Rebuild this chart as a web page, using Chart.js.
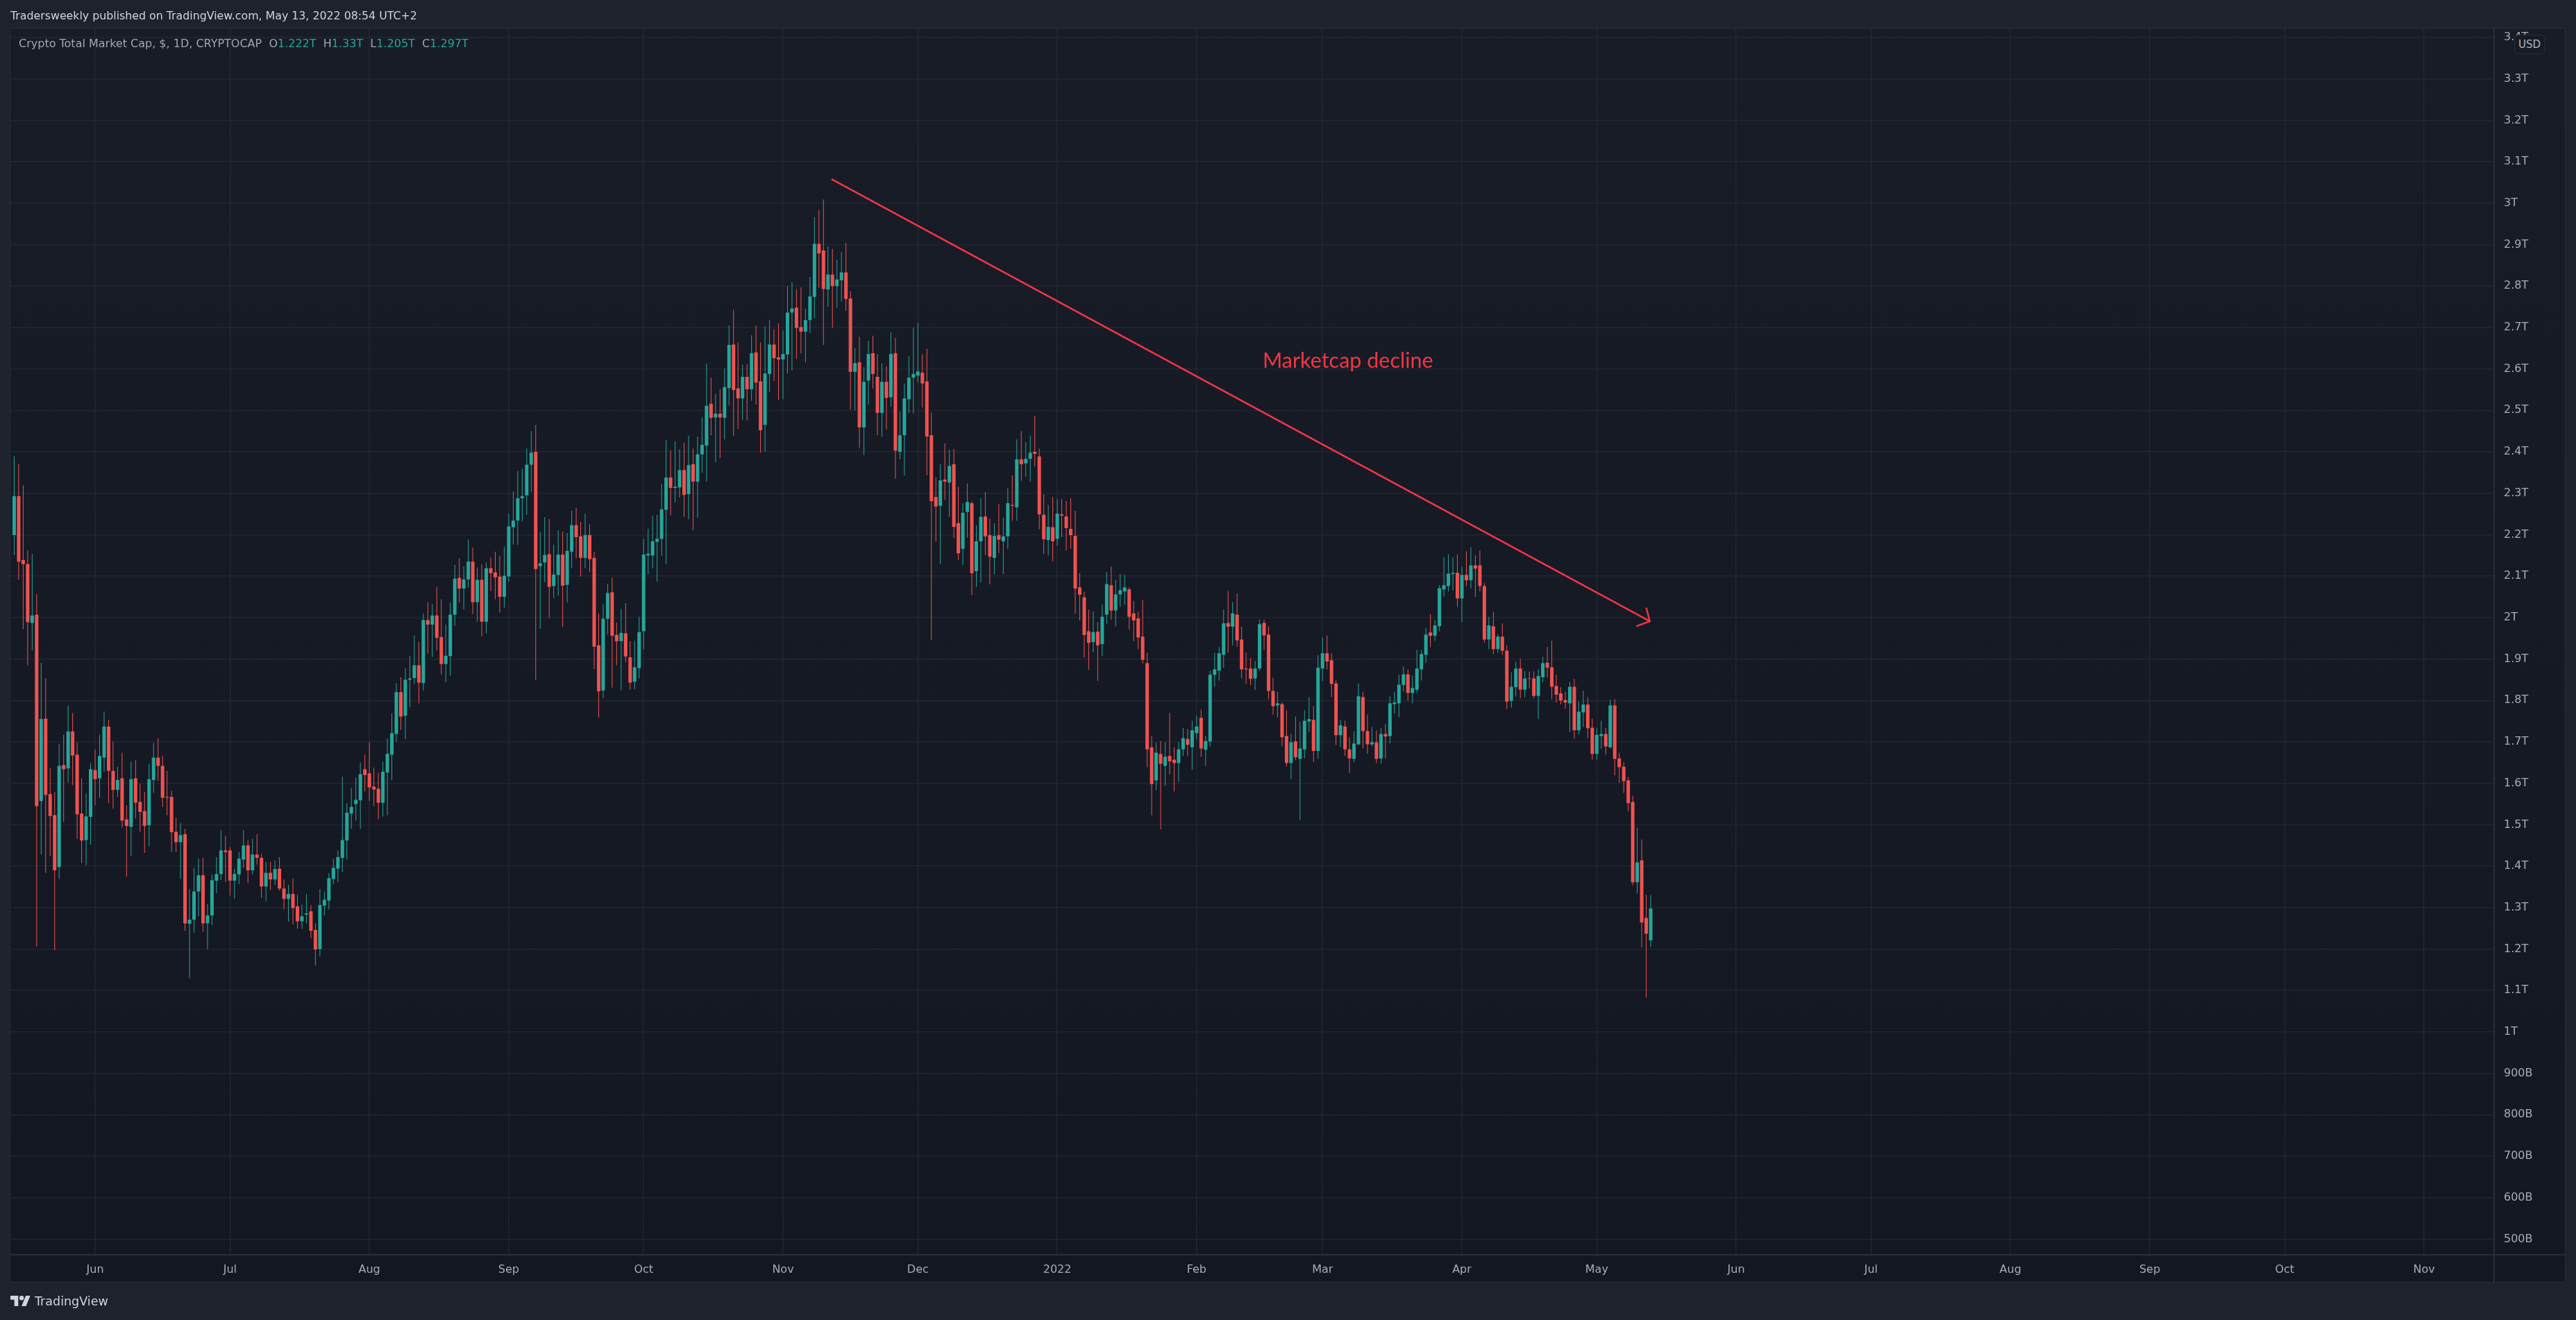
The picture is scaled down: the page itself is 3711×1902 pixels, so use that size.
<!DOCTYPE html>
<html>
<head>
<meta charset="utf-8">
<title>Crypto Total Market Cap</title>
<script src="https://cdn.jsdelivr.net/npm/chart.js@4"></script>
<style>
    html, body { margin: 0; padding: 0; background: #1e222d; }
    body { width: 3711px; height: 1902px; position: relative; overflow: hidden; font-family: "DejaVu Sans", sans-serif; }
    #pane { position: absolute; left: 14px; top: 40px; width: 3680px; height: 1806px; border: 1.5px solid #2a2e39; background: linear-gradient(#181c27, #131722); }
    #priceLine { position: absolute; left: 3592px; top: 41px; width: 1.5px; height: 1807px; background: #2a2e39; }
    #timeLine { position: absolute; left: 15px; top: 1807px; width: 3681px; height: 1.5px; background: #2a2e39; }
    canvas { position: absolute; left: 0; top: 0; }
    .txt { position: absolute; white-space: pre; line-height: 1; }
    #published { left: 15px; top: 15px; font-size: 15.8px; color: #d1d4dc; }
    #legend { left: 27px; top: 55px; font-size: 16px; color: #a3a6af; }
    #legend b { font-weight: normal; color: #26a69a; }
    #note { left: 1819px; top: 503px; font-family: Lato, sans-serif; font-size: 30.5px; color: #f23645; }
    #usd { position: absolute; left: 3622px; top: 50px; width: 42px; height: 26px; border: 1px solid #2a2e39; border-radius: 6px; background: #171b26; color: #b2b5be; font-size: 15px; line-height: 26px; text-align: center; }
    #logo { position: absolute; left: 15px; top: 1867px; width: 29px; height: 15px; }
    #brand { left: 50px; top: 1867px; font-size: 17.5px; color: #d1d4dc; }
</style>
</head>
<body>
<div id="pane"></div>
<canvas id="chart" width="3711" height="1902"></canvas>
<div id="priceLine"></div>
<div id="timeLine"></div>
<div class="txt" id="published">Tradersweekly published on TradingView.com, May 13, 2022 08:54 UTC+2</div>
<div class="txt" id="legend">Crypto Total Market Cap, $, 1D, CRYPTOCAP  O<b>1.222T</b>  H<b>1.33T</b>  L<b>1.205T</b>  C<b>1.297T</b></div>
<div class="txt" id="note">Marketcap decline</div>
<div id="usd">USD</div>
<svg id="logo" viewBox="0 4 36 18" preserveAspectRatio="none"><path fill="#d1d4dc" d="M14 22H7V11H0V4h14v18zM28 22h-8l7.5-18h8L28 22z"/><circle fill="#d1d4dc" cx="20" cy="8" r="4"/></svg>
<div class="txt" id="brand">TradingView</div>
<script>
// ==================== Data (market cap in trillions of USD) ====================
// day of the first candle, counted from 1 Jun 2021
const firstDay = -18

const opens = [
    2.199,2.293,2.139,2.129,1.987,2.007,1.557,1.756,1.574,1.523,1.398,1.644,1.636,1.725,1.669,1.527,1.463,1.519,1.632,1.612,
    1.662,1.737,1.630,1.584,1.612,1.513,1.495,1.612,1.555,1.533,1.499,1.608,1.662,1.642,1.567,1.567,1.483,1.458,1.477,1.261,
    1.271,1.339,1.378,1.262,1.281,1.365,1.381,1.438,1.438,1.365,1.380,1.416,1.450,1.390,1.428,1.420,1.351,1.384,1.368,1.394,
    1.346,1.321,1.333,1.303,1.267,1.283,1.291,1.246,1.200,1.305,1.317,1.369,1.394,1.420,1.462,1.527,1.550,1.559,1.634,1.624,
    1.592,1.587,1.553,1.626,1.669,1.719,1.820,1.763,1.850,1.854,1.885,1.842,1.994,1.983,2.005,1.953,1.888,1.907,2.007,2.096,
    2.070,2.092,2.135,2.037,2.091,1.990,2.119,2.109,2.099,2.050,2.099,2.218,2.234,2.288,2.295,2.369,2.400,2.124,2.133,2.153,
    2.076,2.103,2.152,2.079,2.159,2.223,2.196,2.144,2.199,2.144,1.933,1.824,1.997,2.061,1.958,1.943,1.962,1.904,1.845,1.878,
    1.967,2.150,2.150,2.183,2.190,2.260,2.338,2.313,2.314,2.356,2.298,2.370,2.328,2.394,2.415,2.516,2.483,2.492,2.482,2.554,
    2.659,2.553,2.529,2.581,2.551,2.640,2.570,2.465,2.588,2.659,2.628,2.623,2.635,2.736,2.748,2.701,2.690,2.718,2.774,2.902,
    2.886,2.792,2.828,2.800,2.814,2.833,2.770,2.593,2.616,2.459,2.572,2.638,2.581,2.494,2.569,2.532,2.638,2.400,2.440,2.527,
    2.579,2.584,2.591,2.570,2.440,2.291,2.270,2.333,2.326,2.370,2.228,2.166,2.255,2.276,2.112,2.184,2.244,2.199,2.144,2.199,
    2.184,2.196,2.272,2.266,2.382,2.372,2.383,2.400,2.389,2.248,2.187,2.218,2.190,2.249,2.244,2.214,2.197,2.073,2.049,1.967,
    1.941,1.966,1.936,2.007,2.078,2.017,2.056,2.063,2.068,2.010,1.998,1.954,1.890,1.687,1.607,1.671,1.642,1.666,1.657,1.649,
    1.682,1.707,1.687,1.721,1.758,1.681,1.701,1.862,1.872,1.910,1.987,1.978,2.007,1.947,1.877,1.877,1.853,1.877,1.987,1.959,
    1.823,1.788,1.791,1.714,1.649,1.701,1.659,1.682,1.749,1.753,1.678,1.877,1.914,1.897,1.841,1.716,1.737,1.682,1.659,1.694,
    1.808,1.726,1.694,1.699,1.660,1.719,1.714,1.791,1.793,1.837,1.863,1.818,1.826,1.875,1.910,1.964,1.956,1.979,2.068,2.076,
    2.105,2.108,2.046,2.103,2.090,2.126,2.126,2.076,1.947,1.979,1.924,1.954,1.920,1.799,1.832,1.877,1.826,1.853,1.853,1.811,
    1.856,1.891,1.880,1.835,1.817,1.801,1.793,1.833,1.728,1.771,1.790,1.734,1.671,1.714,1.719,1.687,1.788,1.660,1.640,1.607,
    1.555,1.361,1.414,1.275,1.221
]
const closes = [
    2.293,2.135,2.129,1.989,2.005,1.545,1.755,1.572,1.521,1.390,1.642,1.634,1.725,1.667,1.525,1.462,1.520,1.634,1.610,1.666,
    1.737,1.630,1.584,1.608,1.510,1.497,1.610,1.553,1.531,1.497,1.610,1.662,1.642,1.565,1.565,1.482,1.458,1.475,1.262,1.271,
    1.339,1.378,1.262,1.281,1.366,1.381,1.438,1.434,1.365,1.381,1.418,1.450,1.390,1.428,1.420,1.351,1.384,1.368,1.393,1.346,
    1.321,1.333,1.299,1.267,1.279,1.286,1.244,1.199,1.306,1.319,1.371,1.396,1.422,1.463,1.529,1.543,1.560,1.622,1.620,1.590,
    1.585,1.553,1.628,1.671,1.721,1.820,1.761,1.850,1.853,1.885,1.843,1.994,1.983,2.005,1.951,1.888,1.908,2.007,2.094,2.070,
    2.092,2.135,2.037,2.091,1.990,2.119,2.107,2.097,2.050,2.101,2.220,2.234,2.288,2.293,2.369,2.398,2.117,2.131,2.151,2.074,
    2.104,2.152,2.077,2.161,2.223,2.194,2.144,2.199,2.141,1.930,1.822,1.997,2.059,1.956,1.943,1.963,1.906,1.843,1.880,1.965,
    2.152,2.154,2.184,2.190,2.261,2.338,2.313,2.316,2.356,2.296,2.368,2.328,2.394,2.417,2.511,2.482,2.492,2.483,2.556,2.658,
    2.549,2.529,2.581,2.551,2.638,2.567,2.452,2.589,2.659,2.626,2.623,2.636,2.736,2.746,2.699,2.690,2.718,2.775,2.902,2.879,
    2.793,2.828,2.800,2.816,2.833,2.769,2.593,2.614,2.459,2.569,2.636,2.588,2.494,2.569,2.530,2.636,2.403,2.440,2.529,2.579,
    2.588,2.594,2.565,2.437,2.281,2.268,2.331,2.328,2.366,2.219,2.155,2.253,2.279,2.107,2.184,2.243,2.196,2.147,2.197,2.188,
    2.196,2.276,2.270,2.382,2.370,2.383,2.398,2.395,2.249,2.189,2.219,2.184,2.251,2.246,2.216,2.199,2.070,2.055,1.958,1.939,
    1.965,1.933,2.002,2.081,2.017,2.056,2.066,2.073,2.002,1.993,1.952,1.898,1.682,1.598,1.674,1.647,1.664,1.653,1.649,1.682,
    1.709,1.693,1.728,1.737,1.684,1.702,1.862,1.875,1.914,1.986,1.978,2.010,1.945,1.875,1.875,1.852,1.877,1.984,1.957,1.823,
    1.786,1.793,1.711,1.649,1.699,1.663,1.684,1.751,1.755,1.678,1.879,1.914,1.894,1.840,1.716,1.740,1.682,1.660,1.696,1.810,
    1.726,1.694,1.699,1.659,1.719,1.713,1.793,1.795,1.838,1.863,1.818,1.830,1.877,1.912,1.959,1.956,1.981,2.071,2.078,2.106,
    2.108,2.046,2.103,2.090,2.126,2.118,2.076,1.947,1.981,1.924,1.954,1.920,1.797,1.833,1.877,1.826,1.853,1.852,1.811,1.859,
    1.890,1.879,1.833,1.814,1.800,1.795,1.833,1.728,1.773,1.790,1.733,1.671,1.717,1.719,1.689,1.788,1.659,1.639,1.605,1.552,
    1.361,1.409,1.264,1.237,1.298
]
const highs = [
    2.389,2.370,2.319,2.162,2.154,2.057,1.891,1.854,1.637,1.579,1.694,1.717,1.788,1.770,1.699,1.612,1.575,1.649,1.681,1.717,
    1.773,1.753,1.701,1.640,1.674,1.547,1.652,1.656,1.599,1.579,1.647,1.697,1.709,1.666,1.630,1.582,1.517,1.505,1.490,1.345,
    1.396,1.418,1.420,1.309,1.380,1.422,1.487,1.473,1.446,1.394,1.434,1.487,1.463,1.466,1.477,1.430,1.410,1.410,1.414,1.422,
    1.368,1.355,1.371,1.331,1.307,1.333,1.306,1.262,1.345,1.339,1.383,1.418,1.438,1.616,1.552,1.589,1.614,1.650,1.669,1.699,
    1.638,1.626,1.652,1.708,1.769,1.842,1.856,1.878,1.908,1.957,1.941,2.010,2.037,2.032,2.074,2.044,1.983,2.036,2.127,2.143,
    2.124,2.188,2.169,2.121,2.129,2.133,2.145,2.159,2.149,2.171,2.250,2.304,2.353,2.359,2.408,2.450,2.465,2.206,2.242,2.238,
    2.175,2.211,2.208,2.204,2.258,2.265,2.231,2.251,2.225,2.159,2.010,2.032,2.082,2.096,1.988,2.021,2.035,1.943,1.944,2.002,
    2.190,2.214,2.246,2.248,2.323,2.429,2.403,2.425,2.406,2.422,2.439,2.408,2.436,2.483,2.613,2.579,2.539,2.551,2.601,2.705,
    2.743,2.664,2.610,2.612,2.681,2.705,2.664,2.703,2.718,2.696,2.710,2.693,2.800,2.809,2.793,2.797,2.745,2.822,2.966,2.984,
    3.009,2.896,2.890,2.864,2.882,2.904,2.788,2.651,2.678,2.605,2.668,2.680,2.636,2.613,2.607,2.688,2.675,2.497,2.565,2.631,
    2.699,2.711,2.635,2.649,2.495,2.338,2.370,2.420,2.405,2.407,2.316,2.276,2.324,2.280,2.223,2.288,2.303,2.239,2.228,2.274,
    2.241,2.312,2.343,2.430,2.450,2.424,2.439,2.487,2.408,2.298,2.272,2.291,2.286,2.286,2.281,2.288,2.258,2.107,2.062,2.019,
    2.015,1.989,2.031,2.110,2.123,2.091,2.105,2.103,2.073,2.040,2.014,2.043,1.915,1.714,1.698,1.702,1.699,1.770,1.687,1.699,
    1.734,1.731,1.751,1.764,1.778,1.714,1.872,1.915,1.929,2.019,2.064,2.037,2.058,1.978,1.915,1.902,1.895,1.995,1.995,1.979,
    1.855,1.821,1.796,1.776,1.719,1.761,1.749,1.776,1.808,1.786,1.909,1.952,1.957,1.914,1.848,1.753,1.751,1.711,1.726,1.841,
    1.821,1.766,1.736,1.728,1.734,1.743,1.810,1.821,1.862,1.882,1.875,1.860,1.922,1.922,1.975,2.009,1.994,2.078,2.146,2.153,
    2.146,2.152,2.123,2.160,2.170,2.150,2.162,2.083,2.002,2.014,1.960,1.986,1.933,1.868,1.894,1.900,1.871,1.870,1.870,1.875,
    1.905,1.929,1.944,1.862,1.832,1.821,1.845,1.852,1.797,1.823,1.808,1.756,1.733,1.751,1.734,1.802,1.803,1.674,1.651,1.615,
    1.570,1.493,1.464,1.331,1.330
]
const lows = [
    2.151,2.091,1.972,1.885,1.921,1.206,1.428,1.384,1.424,1.197,1.369,1.507,1.602,1.596,1.466,1.408,1.402,1.452,1.547,1.565,
    1.628,1.552,1.539,1.567,1.493,1.375,1.424,1.515,1.483,1.432,1.448,1.577,1.606,1.543,1.523,1.434,1.434,1.369,1.244,1.129,
    1.239,1.279,1.242,1.200,1.258,1.335,1.366,1.362,1.329,1.322,1.356,1.396,1.359,1.380,1.404,1.323,1.315,1.343,1.355,1.341,
    1.296,1.266,1.260,1.249,1.249,1.262,1.226,1.160,1.182,1.281,1.296,1.356,1.361,1.386,1.416,1.490,1.510,1.490,1.580,1.557,
    1.545,1.513,1.520,1.523,1.608,1.700,1.729,1.707,1.784,1.840,1.793,1.824,1.913,1.905,1.920,1.863,1.844,1.860,1.980,2.036,
    2.020,2.072,2.008,1.990,1.955,1.962,2.064,2.044,2.012,2.024,2.086,2.176,2.176,2.232,2.248,2.303,1.850,1.973,2.085,1.999,
    2.047,2.053,1.977,2.036,2.119,2.143,2.099,2.119,2.110,1.876,1.759,1.806,1.959,1.831,1.885,1.824,1.892,1.826,1.827,1.853,
    1.923,2.105,2.119,2.087,2.149,2.129,2.247,2.278,2.290,2.243,2.237,2.211,2.241,2.350,2.328,2.440,2.375,2.385,2.430,2.512,
    2.439,2.455,2.477,2.476,2.523,2.514,2.398,2.400,2.544,2.571,2.525,2.527,2.589,2.596,2.624,2.638,2.616,2.687,2.722,2.796,
    2.658,2.750,2.699,2.748,2.763,2.740,2.502,2.500,2.410,2.392,2.514,2.553,2.440,2.436,2.454,2.509,2.335,2.382,2.343,2.494,
    2.492,2.567,2.507,2.343,1.946,2.183,2.129,2.284,2.243,2.192,2.139,2.127,2.193,2.054,2.074,2.085,2.151,2.080,2.105,2.155,
    2.105,2.166,2.234,2.234,2.330,2.340,2.328,2.365,2.213,2.154,2.150,2.136,2.173,2.194,2.162,2.166,2.009,1.993,1.903,1.874,
    1.916,1.847,1.907,1.984,1.995,1.979,2.026,2.031,1.971,1.943,1.924,1.889,1.639,1.523,1.583,1.489,1.594,1.621,1.580,1.604,
    1.666,1.666,1.632,1.706,1.664,1.642,1.689,1.833,1.848,1.879,1.915,1.933,1.930,1.853,1.840,1.837,1.825,1.871,1.922,1.803,
    1.766,1.759,1.689,1.641,1.610,1.656,1.511,1.660,1.724,1.651,1.659,1.847,1.875,1.808,1.693,1.687,1.666,1.625,1.651,1.692,
    1.684,1.671,1.689,1.649,1.647,1.660,1.696,1.768,1.759,1.821,1.799,1.793,1.818,1.848,1.891,1.929,1.944,1.967,2.051,2.063,
    2.066,2.026,1.989,2.076,2.070,2.050,2.063,1.940,1.924,1.912,1.915,1.910,1.779,1.783,1.809,1.805,1.807,1.829,1.805,1.755,
    1.844,1.855,1.803,1.795,1.791,1.780,1.724,1.708,1.718,1.736,1.709,1.657,1.657,1.683,1.669,1.684,1.619,1.602,1.577,1.532,
    1.354,1.334,1.204,1.083,1.205
]

const monthDays = [0, 30, 61, 92, 122, 153, 183, 214, 245, 273, 304, 334, 365, 395, 426, 457, 487, 518]
const monthLabels = ['Jun', 'Jul', 'Aug', 'Sep', 'Oct', 'Nov', 'Dec', '2022', 'Feb', 'Mar', 'Apr', 'May', 'Jun', 'Jul', 'Aug', 'Sep', 'Oct', 'Nov']

const priceTicks = [0.5, 0.6, 0.7, 0.8, 0.9, 1, 1.1, 1.2, 1.3, 1.4, 1.5, 1.6, 1.7, 1.8, 1.9, 2, 2.1, 2.2, 2.3, 2.4, 2.5, 2.6, 2.7, 2.8, 2.9, 3, 3.1, 3.2, 3.3, 3.4]
const priceLabels = ['500B', '600B', '700B', '800B', '900B', '1T', '1.1T', '1.2T', '1.3T', '1.4T', '1.5T', '1.6T', '1.7T', '1.8T', '1.9T', '2T', '2.1T', '2.2T', '2.3T', '2.4T', '2.5T', '2.6T', '2.7T', '2.8T', '2.9T', '3T', '3.1T', '3.2T', '3.3T', '3.4T']

// hand drawn trend line and its arrow head: [day, value]
const trendLine = [[163.8, 3.058], [345.8, 1.991]]
const arrowHead = [[345, 2.024], [345.8, 1.991], [342.8, 1.979]]

// ==================== Colours ====================
const UP = '#26a69a'
const DOWN = '#ef5350'
const DRAWING = '#f23645'
const GRID = 'rgba(42, 46, 57, 0.6)'
const TICK_TEXT = '#a9acb4'

// ==================== Candles ====================
const candleColor = opens.map((o, i) => (closes[i] >= o ? UP : DOWN))
const wicks = lows.map((l, i) => ({ x: firstDay + i, y: [l, highs[i]] }))
const bodies = opens.map((o, i) => ({ x: firstDay + i, y: [Math.min(o, closes[i]), Math.max(o, closes[i])] }))
const toPoints = (list) => list.map(p => ({ x: p[0], y: p[1] }))

const drawingLine = (data) => ({
    type: 'line',
    data: toPoints(data),
    borderColor: DRAWING,
    borderWidth: 2.5,
    pointRadius: 0,
    tension: 0,
    order: 0
})

new Chart(document.getElementById('chart'), {
    type: 'bar',
    data: {
        datasets: [
            // inflateAmount 0, otherwise the bars come out a third of a pixel too wide
            { data: wicks, backgroundColor: candleColor, barThickness: 1, inflateAmount: 0, grouped: false, order: 2 },
            { data: bodies, backgroundColor: candleColor, barThickness: 5, inflateAmount: 0, grouped: false, order: 1 },
            drawingLine(trendLine),
            drawingLine(arrowHead)
        ]
    },
    options: {
        responsive: false,
        devicePixelRatio: 1,
        animation: false,
        layout: { padding: { left: 15, top: 41, right: 15, bottom: 54 } },
        plugins: {
            legend: { display: false },
            tooltip: { enabled: false }
        },
        scales: {
            x: {
                type: 'linear',
                offset: false,
                min: -18.84,
                max: 533.43,
                afterBuildTicks: (axis) => { axis.ticks = monthDays.map(d => ({ value: d })) },
                afterFit: (axis) => { axis.height = 41 },
                grid: { color: GRID, lineWidth: 1.5, drawTicks: false, offset: false },
                border: { display: false },
                ticks: {
                    autoSkip: false,
                    maxRotation: 0,
                    padding: 13,
                    color: TICK_TEXT,
                    font: { family: 'DejaVu Sans', size: 16 },
                    callback: (value) => monthLabels[monthDays.indexOf(value)]
                }
            },
            y: {
                type: 'linear',
                position: 'right',
                min: 0.4638,
                max: 3.4218,
                afterBuildTicks: (axis) => { axis.ticks = priceTicks.map(v => ({ value: v })) },
                afterFit: (axis) => { axis.width = 104 },
                grid: { color: GRID, lineWidth: 1.5, drawTicks: false },
                border: { display: false },
                ticks: {
                    autoSkip: false,
                    padding: 15,
                    color: TICK_TEXT,
                    font: { family: 'DejaVu Sans', size: 16 },
                    callback: (value) => priceLabels[priceTicks.indexOf(value)]
                }
            }
        }
    }
})
</script>
</body>
</html>
